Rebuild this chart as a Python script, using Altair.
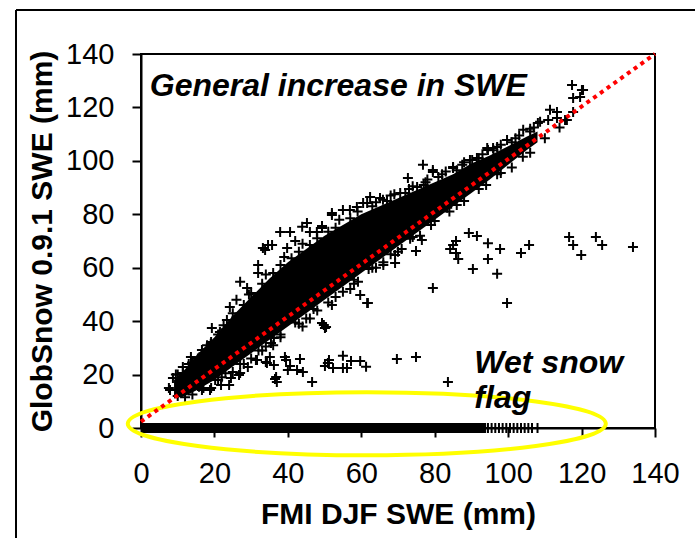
import altair as alt
import pandas as pd

# --- data -------------------------------------------------------------
# wet-snow-flagged points lying on GlobSnow SWE = 0:
# a solid run of overlapping points, then individual points at its end
zero_run_start = [0]
zero_run_end = [94]
zero_x = [93, 94.5, 95.5, 96.5, 97.5, 98.5, 99.5, 100.5, 101.5, 102.5, 103.5,
          104.5, 105.5, 106.5, 108]

# dense core of the cloud (solid black region)
core_x = [9, 12, 15, 20, 25, 30, 35, 40, 45, 50, 55, 60, 65, 70, 75, 80, 85, 90, 95, 100, 105, 108]
core_hi = [18, 22, 27, 34, 42, 49, 56, 62, 67, 72, 76, 80, 83, 86, 89, 92, 95, 99, 102, 105.5, 109, 111]
core_lo = [11, 12, 14, 18, 23, 28, 33, 38, 43, 48, 53, 58, 63, 68, 73, 78, 83, 88, 93, 98.5, 104, 107]

# individual points around the edge of the cloud and outliers
scatter_x = [
    7.9, 8.7, 7.6, 9.5, 11.4, 11.4, 13.6, 13.9, 16.6, 15.5, 18.0, 19.3, 21.5, 19.1, 23.4, 24.2,
    22.5, 27.0, 28.9, 26.0, 29.4, 31.9, 31.9, 33.8, 34.6, 33.2, 35.7, 37.9, 40.6, 39.8, 42.0, 43.9,
    45.2, 46.0, 47.9, 49.3, 49.3, 52.0, 52.0, 55.0, 56.9, 58.8, 60.5, 61.6, 62.4, 65.1, 65.9, 68.0,
    70.6, 72.7, 73.0, 75.2, 76.8, 77.5, 79.5, 79.5, 82.0, 85.0, 85.0, 87.5, 89.6, 90.2, 91.5, 94.3,
    94.5, 95.9, 97.0, 99.7, 102.0, 104.1, 106.0, 108.1, 108.7, 110.9, 111.4, 113.3, 113.3, 115.5,
    116.0, 117.7, 117.4, 120.1, 117.7, 119.6, 120.4,
    15.8, 19.1, 21.8, 24.0, 24.5, 26.7, 29.1, 31.3, 34.0, 36.2, 36.8, 36.5, 37.0, 39.5, 40.0, 36.2,
    35.4, 35.1, 39.2, 43.3, 40.6, 42.5, 44.1, 46.6, 31.6, 34.3, 16.6, 18.8, 20.2, 27.0, 24.2,
    49.3, 50.1, 49.8, 50.4, 59.1, 59.7, 61.6, 61.8, 69.2, 69.2,
    51.2, 50.1, 52.3, 55.0, 55.0, 57.2, 59.7, 61.3, 56.1, 50.9,
    69.7, 74.9, 83.6,
    73.3, 76.5, 74.9, 79.5, 89.3, 91.5, 85.8, 85.0, 84.2, 85.8, 86.4, 94.5, 97.8, 94.5, 90.4, 97.0,
    103.5, 105.7, 116.6, 117.7, 119.9, 123.9, 125.6, 134.0, 99.7,
    62, 68, 74, 80, 83.4, 86, 92, 98, 104, 110, 114, 44, 52, 30, 22, 12, 10,
    28, 33, 38, 43, 48, 53, 58, 64, 70, 25, 36, 46, 57, 66,
    # ragged upper edge of the dense core
    10, 13, 14, 17, 19, 21, 23, 25, 26, 28, 30, 31, 33, 34, 36, 38, 39, 41, 43, 44, 46, 48,
    51, 53, 54, 57, 59, 63, 64, 67, 69, 72, 74, 77, 78, 81, 83, 86, 88, 92, 93, 96, 98, 101,
    103, 106, 107,
    # ragged lower edge of the dense core
    14, 17, 21, 23, 27, 32, 34, 38, 42, 45, 47, 51, 55, 58, 63, 66, 71, 76, 79, 84, 88, 94,
    97, 101, 106]
scatter_y = [
    14.2, 18.7, 15.0, 20.0, 20.6, 22.8, 26.6, 24.5, 29.2, 26.0, 31.0, 37.4, 35.9, 32.2, 40.4, 45.3,
    38.5, 54.7, 52.4, 48.0, 50.0, 61.0, 58.0, 66.6, 68.5, 67.4, 68.5, 73.4, 73.4, 67.4, 70.0, 75.3,
    76.7, 73.4, 73.4, 74.9, 75.6, 79.7, 80.5, 81.6, 81.6, 82.7, 84.2, 84.2, 86.5, 86.1, 85.4, 87.0,
    88.0, 93.6, 89.5, 90.2, 98.5, 92.0, 95.8, 96.6, 95.0, 97.3, 97.7, 98.5, 100.3, 100.3, 101.1, 104.8,
    104.1, 104.8, 105.2, 107.8, 108.5, 111.6, 112.0, 114.2, 114.6, 115.3, 119.1, 118.3, 116.0, 115.3,
    115.3, 118.3, 128.4, 126.5, 123.5, 123.9, 126.5,
    15.4, 15.0, 16.1, 16.1, 18.7, 19.8, 22.8, 25.5, 24.7, 23.6, 19.1, 18.3, 17.2, 25.5, 21.7, 33.7,
    31.8, 26.6, 26.6, 25.8, 23.2, 21.7, 21.0, 17.2, 25.5, 24.3, 14.2, 14.2, 18.0, 20.6, 25.5,
    39.3, 37.4, 38.6, 37.8, 54.7, 49.8, 46.8, 46.8, 61.8, 64.8,
    25.5, 23.2, 22.5, 27.0, 22.5, 25.1, 25.1, 22.9, 22.5, 24.3,
    25.8, 26.6, 17.2,
    70.8, 70.4, 66.3, 52.4, 73.0, 71.9, 70.0, 68.5, 67.0, 65.5, 63.3, 69.2, 67.0, 63.3, 59.5, 57.7,
    65.5, 68.5, 71.5, 68.5, 64.8, 71.5, 68.5, 67.8, 46.8,
    59.5, 65, 71.5, 77.5, 82.4, 83.5, 89.5, 95.5, 101.5, 108.5, 112.5, 38, 46, 26, 19, 11.5, 12,
    24, 29, 34, 39, 44, 49, 54, 60, 66, 21, 31, 41, 52, 61,
    20, 24, 22.5, 28, 31.5, 35, 37, 43, 41.5, 46, 50.5, 48, 54, 57.5, 58, 61, 64, 63.5, 66, 69,
    68.5, 71, 73.5, 75, 78, 78.5, 81, 83, 84.5, 85, 87.5, 88, 90.5, 91, 93, 94, 96, 96.5, 99.5,
    101, 102.5, 104, 106, 107, 109.5, 111, 112.5,
    12.5, 15, 18, 20.5, 24, 29, 30.5, 35, 39.5, 41, 44.5, 47, 51, 55.5, 60, 62, 67, 72, 76, 81,
    85, 91, 95, 97.5, 103]

# red dotted reference line
line_x = [0, 140]
line_y = [2.4, 140]

# yellow ellipse around the wet snow flag row
ellipse_x = [61.5]
ellipse_y = [1.6]

# annotations
ann_x = [2.4, 90.8]
ann_y = [124.3, 20.6]
ann_text = ["General increase in SWE", "Wet snow\nflag"]

# --- chart -----------------------------------------------------------
FONT = "Liberation Sans"
ticks = [0, 20, 40, 60, 80, 100, 120, 140]

xs = alt.Scale(domain=[0, 140], nice=False)
ys = alt.Scale(domain=[0, 140], nice=False)
xaxis = alt.Axis(values=ticks, title="FMI DJF SWE (mm)", labelPadding=22, labelFlush=False,
                 titleX=257, titleY=95, titleBaseline="alphabetic")
yaxis = alt.Axis(values=ticks, title="GlobSnow 0.9.1 SWE (mm)", labelPadding=18, labelFlush=False,
                 titleX=-99, titleY=187, titleAngle=270, titleBaseline="middle",
                 titleAlign="center")

X = alt.X("x:Q", scale=xs, axis=xaxis)
Y = alt.Y("y:Q", scale=ys, axis=yaxis)

core_df = pd.DataFrame({"x": core_x, "y": core_hi, "lo": core_lo})
pts_df = pd.DataFrame({"x": scatter_x + zero_x, "y": scatter_y + [0] * len(zero_x)})
run_df = pd.DataFrame({"x": zero_run_start, "x2": zero_run_end, "y": [0]})
line_df = pd.DataFrame({"x": line_x, "y": line_y})
ell_df = pd.DataFrame({"x": ellipse_x, "y": ellipse_y})
ann_df = pd.DataFrame({"x": ann_x, "y": ann_y, "t": ann_text})
dummy = pd.DataFrame({"a": [0]})

core = alt.Chart(core_df).mark_area(color="black", opacity=1).encode(
    x=X, y=Y, y2="lo:Q")

run = alt.Chart(run_df).mark_rule(color="black", strokeWidth=10, strokeCap="butt").encode(
    x=X, x2="x2:Q", y=Y)

plus = "M -1 0 L 1 0 M 0 -1 L 0 1"
points = alt.Chart(pts_df).mark_point(
    shape=plus, size=100, filled=False, stroke="black", strokeWidth=2, opacity=1
).encode(x=X, y=Y)

k = 0.5523
r = 0.132
ell_path = (f"M -1 0 C -1 {-r*k:.4f} {-k} {-r} 0 {-r} "
            f"C {k} {-r} 1 {-r*k:.4f} 1 0 "
            f"C 1 {r*k:.4f} {k} {r} 0 {r} "
            f"C {-k} {r} -1 {r*k:.4f} -1 0 Z")
ellipse = alt.Chart(ell_df).mark_point(
    shape=ell_path, size=478 ** 2, filled=False, stroke="#FFFF00", strokeWidth=4, opacity=1
).encode(x=X, y=Y)

refline = alt.Chart(line_df).mark_line(
    color="#FF0000", strokeWidth=4, strokeDash=[4, 4.3], strokeCap="butt"
).encode(x=X, y=Y)

text = alt.Chart(ann_df).mark_text(
    font=FONT, fontSize=32, fontWeight="bold", fontStyle="italic", align="left",
    baseline="alphabetic", lineBreak="\n", lineHeight=35, color="black"
).encode(x=X, y=Y, text="t:N")

frame_left = alt.Chart(dummy).mark_rule(color="black", strokeWidth=2).encode(
    x=alt.value(-125), y=alt.value(-44), y2=alt.value(490))
frame_top = alt.Chart(dummy).mark_rule(color="black", strokeWidth=2).encode(
    x=alt.value(-125), x2=alt.value(560), y=alt.value(-44))

chart = alt.layer(core, run, points, ellipse, refline, text, frame_left, frame_top).properties(
    width=514, height=374,
    padding={"left": 141, "top": 54, "right": 40, "bottom": 110},
    autosize=alt.AutoSizeParams(type="none"),
    background="white",
).configure_view(
    stroke="black", strokeWidth=2
).configure_axis(
    grid=False, domainColor="black", domainWidth=2, tickColor="black", tickWidth=2,
    tickSize=9, labelFont=FONT, labelFontSize=29, labelColor="black",
    titleFont=FONT, titleFontSize=30, titleFontWeight="bold", titleColor="black"
)

chart.save("out.html", embed_options={"renderer": "svg", "actions": False})
